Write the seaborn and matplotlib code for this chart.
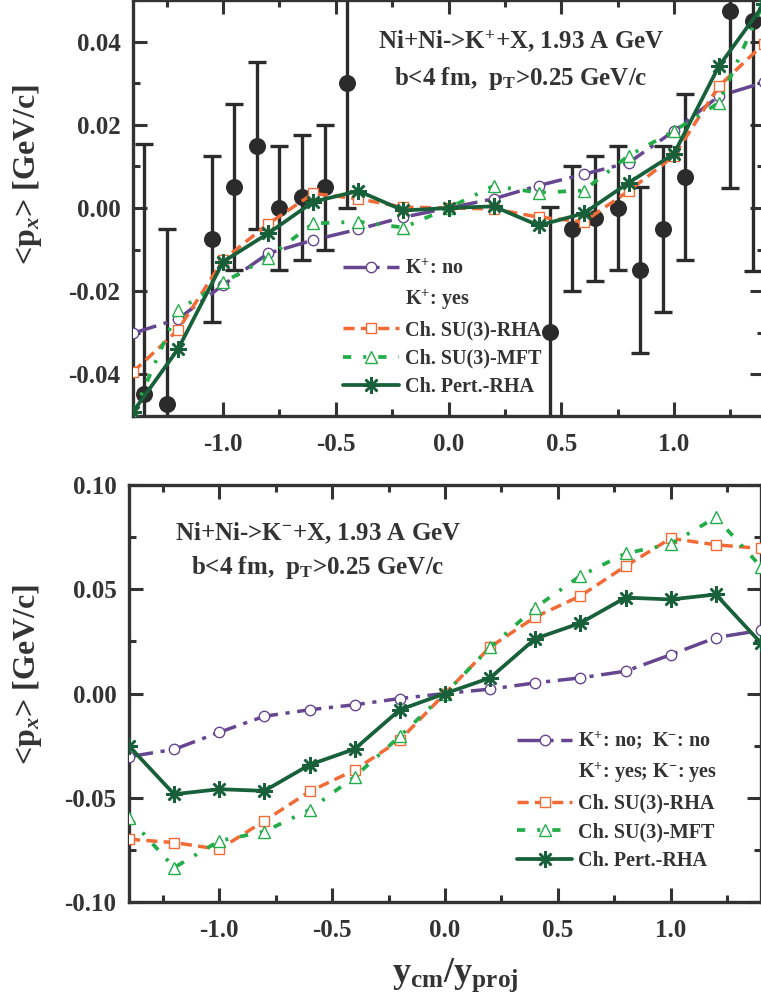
import numpy as np
import pandas as pd
import seaborn as sns
import matplotlib.pyplot as plt
from matplotlib.lines import Line2D
from matplotlib.ticker import MultipleLocator, FormatStrFormatter

# rapidity grid of the transport calculations
y_model = [-1.4, -1.2, -1.0, -0.8, -0.6, -0.4, -0.2, 0.0, 0.2, 0.4, 0.6, 0.8, 1.0, 1.2, 1.4]

# K+ panel
kp_no = [-0.0301, -0.0267, -0.0185, -0.0109, -0.0077, -0.0051, -0.0022, 0.0,
         0.0022, 0.0054, 0.0081, 0.0109, 0.0185, 0.0269, 0.0302]
kp_su3_rha = [-0.0394, -0.0293, -0.0125, -0.0038, 0.0035, 0.0022, 0.0002, 0.0,
              -0.0002, -0.0022, -0.0033, 0.0041, 0.0125, 0.0293, 0.0395]
kp_su3_mft = [-0.0495, -0.0245, -0.0179, -0.0119, -0.0037, -0.0033, -0.0047, 0.0,
              0.0053, 0.0037, 0.0042, 0.0126, 0.0185, 0.0253, 0.0495]
kp_pert = [-0.049, -0.0339, -0.0129, -0.0061, 0.0015, 0.0041, -0.0006, 0.0,
           0.0004, -0.0042, -0.0013, 0.0061, 0.013, 0.0341, 0.049]

# K+ data (FOPI)
exp_y = [-1.35, -1.25, -1.05, -0.95, -0.85, -0.75, -0.65, -0.55, -0.45,
         0.45, 0.55, 0.65, 0.75, 0.85, 0.95, 1.05, 1.25, 1.35]
exp_px = [-0.0447, -0.0471, -0.0074, 0.005, 0.015, 0.0, 0.0026, 0.005, 0.030,
          -0.0297, -0.005, -0.0025, 0.0, -0.0149, -0.005, 0.0075, 0.0474, 0.0449]
exp_err = [0.06, 0.042, 0.02, 0.02, 0.02, 0.015, 0.015, 0.015, 0.03,
           0.03, 0.015, 0.015, 0.015, 0.02, 0.02, 0.02, 0.0425, 0.06]

# K- panel
km_no = [-0.0303, -0.0268, -0.0186, -0.0109, -0.0078, -0.0054, -0.0024, 0.0,
         0.0021, 0.0051, 0.0075, 0.0107, 0.0186, 0.0268, 0.0303]
km_su3_rha = [-0.0699, -0.0715, -0.0747, -0.0611, -0.047, -0.0367, -0.0223, 0.0,
              0.0223, 0.0367, 0.0468, 0.0611, 0.0744, 0.0713, 0.0696]
km_su3_mft = [-0.0595, -0.0835, -0.0707, -0.0662, -0.0558, -0.0399, -0.0205, 0.0,
              0.0221, 0.0412, 0.0564, 0.0672, 0.0717, 0.0845, 0.0608]
km_pert = [-0.0252, -0.0483, -0.0459, -0.0467, -0.0342, -0.0266, -0.0078, 0.0,
           0.0075, 0.0263, 0.0338, 0.046, 0.0451, 0.0475, 0.0242]

#%%
sns.set_theme(style='ticks')
plt.rcParams['font.family'] = ['Liberation Serif', 'DejaVu Serif']
plt.rcParams['font.weight'] = 'bold'
plt.rcParams['mathtext.fontset'] = 'custom'
plt.rcParams['mathtext.rm'] = 'Liberation Serif:bold'
plt.rcParams['mathtext.bf'] = 'Liberation Serif:bold'
plt.rcParams['mathtext.it'] = 'Liberation Serif:italic:bold'

ink = '#333333'
c_no = '#664690'
c_rha = '#f26b36'
c_mft = '#22ad48'
c_pert = '#17603a'

styles = {
    'no':   dict(color=c_no, linestyle=(0, (7, 2.2, 1.2, 2.2)), lw=2.5, marker='o',
                 markersize=7.5, markerfacecolor='white', markeredgecolor=c_no, markeredgewidth=1.0),
    'rha':  dict(color=c_rha, linestyle=(0, (3.2, 1.8)), lw=2.5, marker='s',
                 markersize=7, markerfacecolor='white', markeredgecolor=c_rha, markeredgewidth=1.0),
    'mft':  dict(color=c_mft, linestyle=(0, (2.2, 3.2, 0.8, 3.2)), lw=2.7, marker='^',
                 markersize=9, markerfacecolor='white', markeredgecolor=c_mft, markeredgewidth=1.0),
    'pert': dict(color=c_pert, linestyle='-', lw=2.7, marker=(8, 2, 0),
                 markersize=12, markeredgecolor=c_pert, markeredgewidth=1.8),
}

fig = plt.figure(figsize=(7.61, 9.97), dpi=100)
ax1 = fig.add_axes([133 / 761, 1 - 416 / 997, 631 / 761, 416 / 997])
ax2 = fig.add_axes([129 / 761, 1 - 902 / 997, 632 / 761, 417 / 997])


def style_axis(ax, ymaj, ymin):
    ax.set_xlim(-1.4, 1.4)
    ax.xaxis.set_major_locator(MultipleLocator(0.5))
    ax.xaxis.set_minor_locator(MultipleLocator(0.25))
    ax.xaxis.set_major_formatter(FormatStrFormatter('%.1f'))
    ax.yaxis.set_major_locator(MultipleLocator(ymaj))
    ax.yaxis.set_minor_locator(MultipleLocator(ymin))
    ax.yaxis.set_major_formatter(FormatStrFormatter('%.2f'))
    ax.tick_params(which='both', direction='in', top=True, right=True,
                   color=ink, width=2.2, labelsize=18, labelcolor=ink)
    ax.tick_params(which='major', length=10)
    ax.tick_params(which='minor', length=5)
    ax.tick_params(axis='x', pad=12)
    ax.tick_params(axis='y', pad=9)
    for s in ax.spines.values():
        s.set_linewidth(2.4)
        s.set_color(ink)
    ax.set_xlabel('')
    ax.set_ylabel('')


def draw_models(ax, vals):
    for key, yv in zip(['no', 'rha', 'mft', 'pert'], vals):
        df = pd.DataFrame({'y': y_model, 'px': yv})
        sns.lineplot(data=df, x='y', y='px', ax=ax, zorder=4, **styles[key])


#%%
# top panel: K+
ax1.errorbar(exp_y, exp_px, yerr=exp_err, fmt='none', ecolor='#2b2b2b',
             elinewidth=2.4, capsize=6.5, capthick=2.4, zorder=2)
sns.scatterplot(x=exp_y, y=exp_px, ax=ax1, color='#2b2b2b', s=150,
                edgecolor='#2b2b2b', linewidth=0, zorder=3)
draw_models(ax1, [kp_no, kp_su3_rha, kp_su3_mft, kp_pert])
ax1.set_ylim(-0.05, 0.05)
style_axis(ax1, 0.02, 0.01)

ax1.text(0.615, 0.899, 'Ni+Ni->K$^{+}$+X, 1.93 A GeV', transform=ax1.transAxes,
         ha='center', va='center', fontsize=18, color=ink)
ax1.text(0.615, 0.8125, 'b<4 fm,  p$_{\\mathrm{T}}$>0.25 GeV/c', transform=ax1.transAxes,
         ha='center', va='center', fontsize=18, color=ink)

# bottom panel: K-
draw_models(ax2, [km_no, km_su3_rha, km_su3_mft, km_pert])
ax2.set_ylim(-0.10, 0.10)
style_axis(ax2, 0.05, 0.025)

ax2.text(0.299, 0.885, 'Ni+Ni->K$^{-}$+X, 1.93 A GeV', transform=ax2.transAxes,
         ha='center', va='center', fontsize=18, color=ink)
ax2.text(0.299, 0.801, 'b<4 fm,  p$_{\\mathrm{T}}$>0.25 GeV/c', transform=ax2.transAxes,
         ha='center', va='center', fontsize=18, color=ink)


def make_legend(ax, labels, anchor):
    blank = Line2D([], [], linestyle='none', marker=None)
    handles = [Line2D([], [], **styles['no']), blank,
               Line2D([], [], **styles['rha']), Line2D([], [], **styles['mft']),
               Line2D([], [], **styles['pert'])]
    leg = ax.legend(handles, labels, loc='upper left', bbox_to_anchor=anchor,
                    frameon=False, fontsize=14.5, handlelength=2.75, handletextpad=0.3,
                    labelspacing=0.42, borderpad=0, borderaxespad=0)
    for t in leg.get_texts():
        t.set_color(ink)
    return leg


make_legend(ax1, ['K$^{+}$: no', 'K$^{+}$: yes', 'Ch. SU(3)-RHA', 'Ch. SU(3)-MFT', 'Ch. Pert.-RHA'],
            (0.333, 0.377))
make_legend(ax2, ['K$^{+}$: no;  K$^{-}$: no', 'K$^{+}$: yes; K$^{-}$: yes', 'Ch. SU(3)-RHA',
                  'Ch. SU(3)-MFT', 'Ch. Pert.-RHA'],
            (0.614, 0.412))

fig.text(28 / 761, 1 - 175 / 997, '<p$_{x}$> [GeV/c]', rotation=90, ha='center', va='center',
         fontsize=23, color=ink)
fig.text(28 / 761, 1 - 675 / 997, '<p$_{x}$> [GeV/c]', rotation=90, ha='center', va='center',
         fontsize=23, color=ink)
fig.text(455 / 761, 1 - 975 / 997, 'y$_{\\mathrm{cm}}$/y$_{\\mathrm{proj}}$', ha='center',
         va='center', fontsize=26, color=ink)

fig.savefig('out.png', dpi=100)
